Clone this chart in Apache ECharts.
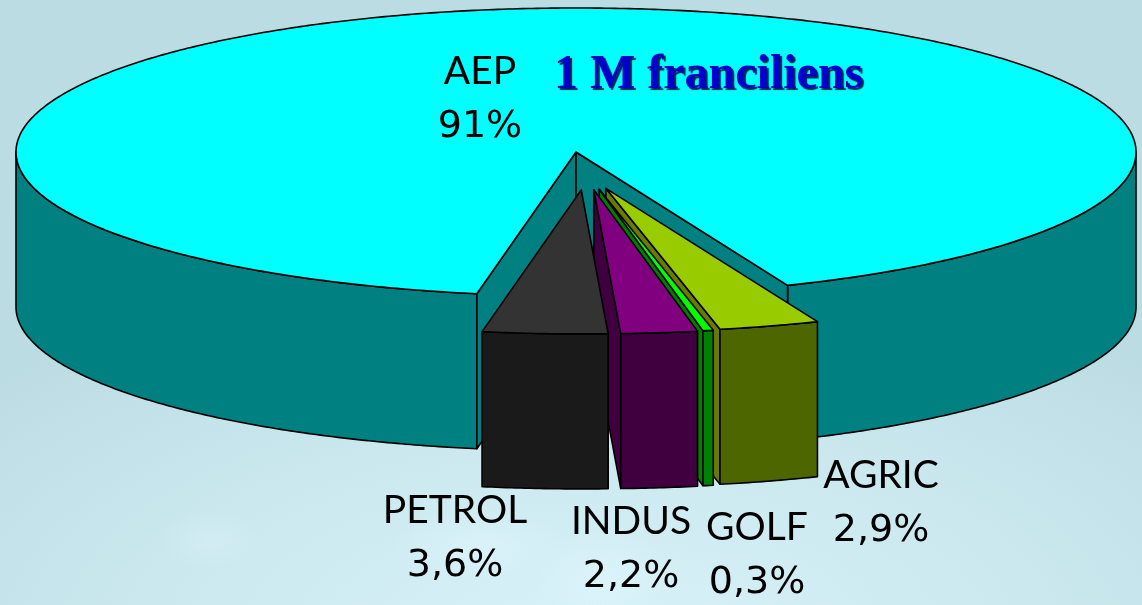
<!DOCTYPE html>
<html>
<head>
<meta charset="utf-8">
<title>1 M franciliens</title>
<script src="https://cdn.jsdelivr.net/npm/echarts@6/dist/echarts.min.js"></script>
<style>
  html, body { margin: 0; padding: 0; }
  body {
    width: 1142px; height: 605px; overflow: hidden;
    background:
      radial-gradient(ellipse 70px 45px at 600px 575px, rgba(225,248,253,.45), rgba(225,248,253,0)),
      radial-gradient(ellipse 90px 35px at 480px 545px, rgba(225,248,253,.45), rgba(225,248,253,0)),
      radial-gradient(ellipse 50px 30px at 210px 540px, rgba(225,248,253,.3), rgba(225,248,253,0)),
      radial-gradient(ellipse 820px 380px at 590px 640px, #d8f3f9 0%, #cbe8ef 55%, #bcdce3 100%);
  }
  #main { width: 1142px; height: 605px; }
</style>
</head>
<body>
<div id="main"></div>
<script>
  // parts de chaque usage
  const categories = ['AEP', 'PETROL', 'INDUS', 'GOLF', 'AGRIC'];
  const shares = [91, 3.6, 2.2, 0.3, 2.9];
  const shareLabels = ['91%', '3,6%', '2,2%', '0,3%', '2,9%'];

  const topColors = ['#00ffff', '#333333', '#800080', '#00ff00', '#99cc00'];
  const sideColors = ['#008080', '#1a1a1a', '#400040', '#008000', '#4d6600'];
  const wallColors = ['#008080', '#400040', '#400040', '#008000', '#6b7a00'];
  const labelX = [480, 455, 631, 757, 881];
  const labelY = [71, 510, 521, 527, 475];

  const START_DEG = -10.2;   // debut de PETROL, mesure depuis le bas
  const DEPTH = 155;
  const EXPLODE_X = 69 / 560;
  const EXPLODE_Y = 38 / 144;
  const SHIFT_X = 9.7 / 560;

  const chart = echarts.init(document.getElementById('main'), null, { renderer: 'canvas' });

  function toRad(d) { return d * Math.PI / 180; }

  // angles de debut et de fin d'une part, AEP prend ce qui reste
  function sliceRange(i) {
    let a = START_DEG;
    for (let k = 1; k < i; k++) a += shares[k] * 3.6;
    return [a, a + shares[i] * 3.6];
  }

  function rimPoint(api, deg, dx, dy) {
    return api.coord([Math.sin(toRad(deg)) + dx, Math.cos(toRad(deg)) + dy]);
  }

  function rimArc(api, from, to, dx, dy) {
    const pts = [];
    const n = Math.max(2, Math.ceil(Math.abs(to - from) * 2));
    for (let k = 0; k <= n; k++) pts.push(rimPoint(api, from + (to - from) * k / n, dx, dy));
    return pts;
  }

  function face(points, fill) {
    return {
      type: 'polygon',
      shape: { points: points },
      style: { fill: fill, stroke: '#000', lineWidth: 1.6, lineJoin: 'round' }
    };
  }

  function down(points) {
    return points.map(p => [p[0], p[1] + DEPTH]).reverse();
  }

  function labelText(x, y, text, font) {
    return {
      type: 'text',
      x: x,
      y: y,
      z2: 50,
      style: { text: text, fill: '#000', font: font, align: 'center', verticalAlign: 'middle' }
    };
  }

  function renderSlice(params, api) {
    const i = api.value(0);
    const children = [];

    if (i === 0) {
      // grand disque avec l'encoche des parts sorties
      const gapEnd = START_DEG + (100 - shares[0]) * 3.6;
      const c = api.coord([0, 0]);
      const left = rimArc(api, -90, START_DEG, 0, 0);
      const right = rimArc(api, gapEnd, 90, 0, 0);
      children.push(face(left.concat(down(left)), sideColors[0]));
      children.push(face(right.concat(down(right)), sideColors[0]));
      const a = rimPoint(api, START_DEG, 0, 0);
      const b = rimPoint(api, gapEnd, 0, 0);
      children.push(face([c, a].concat(down([c, a])), wallColors[0]));
      children.push(face([c, b].concat(down([c, b])), wallColors[0]));
      children.push(face([c].concat(rimArc(api, gapEnd, 360 + START_DEG, 0, 0)), topColors[0]));
    } else {
      const r = sliceRange(i);
      const mid = toRad((r[0] + r[1]) / 2);
      const dx = SHIFT_X + Math.sin(mid) * EXPLODE_X;
      const dy = Math.cos(mid) * EXPLODE_Y;
      const apex = api.coord([dx, dy]);
      const arc = rimArc(api, r[0], r[1], dx, dy);
      // le flanc gauche ne se voit que pour les parts a droite du bas
      if (r[0] > 0) {
        const a = arc[0];
        children.push(face([apex, a].concat(down([apex, a])), wallColors[i]));
      }
      children.push(face(arc.concat(down(arc)), sideColors[i]));
      children.push(face([apex].concat(arc), topColors[i]));
    }

    children.push(labelText(labelX[i], labelY[i], categories[i], '400 39px Lato, sans-serif'));
    children.push(labelText(labelX[i], labelY[i] + 56, shareLabels[i], '400 38px "DejaVu Sans", sans-serif'));
    return { type: 'group', children: children };
  }

  const option = {
    animation: false,
    backgroundColor: 'transparent',
    title: {
      text: '1 M franciliens',
      left: 549,
      top: 47,
      textStyle: {
        fontFamily: 'Liberation Serif',
        fontWeight: 'bold',
        fontSize: 48,
        color: '#0000cc',
        textShadowColor: '#00264d',
        textShadowOffsetX: 2,
        textShadowOffsetY: 2,
        textShadowBlur: 1
      }
    },
    // le cercle unite devient l'ellipse du disque via les axes
    grid: { left: 16, top: 8, width: 1120, height: 288 },
    xAxis: { type: 'value', min: -1, max: 1, show: false },
    yAxis: { type: 'value', min: -1, max: 1, inverse: true, show: false },
    series: [{
      type: 'custom',
      coordinateSystem: 'cartesian2d',
      renderItem: renderSlice,
      clip: false,
      encode: { x: 1, y: 2 },
      // ordre de dessin : du fond vers l'avant
      data: [0, 4, 3, 2, 1].map(i => [i, 0, 0])
    }]
  };
  chart.setOption(option);
</script>
</body>
</html>
